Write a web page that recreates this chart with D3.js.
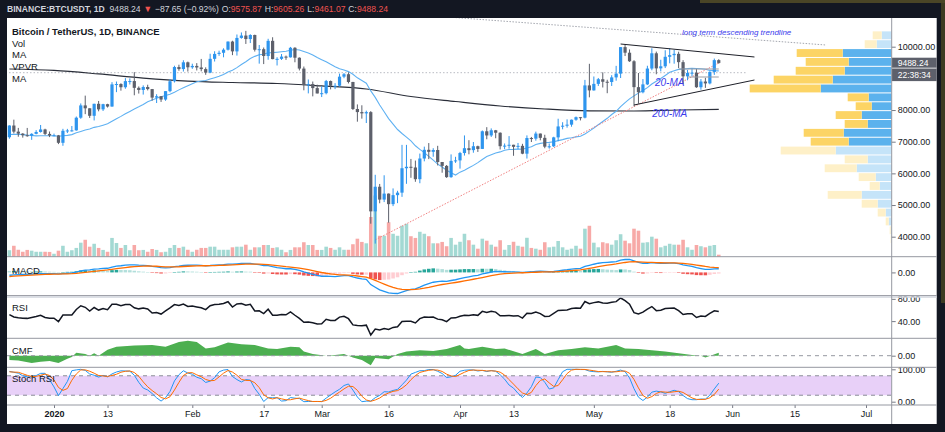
<!DOCTYPE html>
<html>
<head>
<meta charset="utf-8">
<script src="https://cdn.jsdelivr.net/npm/d3@7/dist/d3.min.js"></script>
<style>
html,body{margin:0;padding:0;background:#131722;overflow:hidden;}
svg{display:block;font-family:"Liberation Sans",Arial,sans-serif;}
</style>
</head>
<body>
<svg id="chart" width="945" height="432"></svg>
<script>
// ================= DATA =================
// closes before the visible range (used only to warm up MA20 / MACD / RSI)
const historyStart = "2019-11-10";
const historyCloses = [9040,8720,8800,8760,8630,8460,8490,8500,8170,8120,
  8080,7610,7280,7320,6900,7110,7160,7530,7450,7750,
  7550,7400,7300,7300,7200,7390,7530,7500,7520,7340,
  7220,7200,7190,7250,7070,7110,6880,6620,7280,7150,
  7190,7140];

// visible daily candles, 2019-12-22 .. 2020-05-29
const opens = [
  7141,7511,7318,7255,7205,7194,7248,7307,7387,7246,
  7196,7200,6965,7345,7355,7358,7758,8146,8055,7818,8197,8021,8185,8110,8810,8821,8720,8913,8915,8701,8633,8727,8662,8393,8436,8331,8597,8909,9358,9294,9507,
  9350,9393,9344,9293,9181,9617,9772,9808,9905,10162,9852,10277,10352,10241,10370,9904,9921,9706,10185,9608,9616,9687,9664,9966,9652,9309,8785,8820,8693,
  8523,8532,8915,8768,8768,9054,9131,8886,8033,7935,7895,7934,4800,5578,5172,5361,5028,5312,5391,6162,6208,6186,5816,6469,6744,6680,6738,6359,6236,5881,6394,
  6410,6642,6795,6734,6857,6772,7329,7197,7361,7283,6858,6876,6903,6838,6869,6622,7116,7096,7257,7122,6843,6855,7137,7482,7505,7538,7694,7774,7759,8778,
  8620,8826,8973,8893,8885,9031,9150,9987,9810,9540,8723,8561,8810,9310,9792,9316,9381,9681,9733,9775,9512,9064,9171,9180,8720,8900,8841,9204,9575.87];
const highs = [
  7518,7696,7436,7271,7435,7267,7365,7528,7409,7322,
  7255,7213,7406,7405,7495,7795,8208,8455,8055,8199,8286,8197,8197,8880,8900,8846,9008,9000,9198,8745,8779,8799,8665,8499,8436,8598,8977,9399,9431,9573,9530,
  9463,9481,9614,9348,9778,9856,9875,9950,10166,10188,10385,10450,10500,10392,10380,10054,9974,10250,10298,9668,9769,9720,9993,9985,9662,9374,8965,8900,8800,
  8750,8950,8932,8848,9150,9168,9190,8890,8177,8150,7980,7966,5955,5666,5940,5365,5525,5450,6900,6900,6456,6404,6625,6844,6957,6795,6870,6359,6264,6599,6523,
  6679,7198,7048,6990,6875,7355,7459,7420,7371,7295,6944,7177,6903,6960,6933,7199,7150,7318,7258,7219,6943,7156,7725,7615,7705,7700,7795,7780,8952,9460,
  9059,9012,9191,8956,9100,9395,9990,10067,9914,9574,9169,8979,9398,9950,9845,9588,9888,9950,9897,9842,9575,9266,9310,9298,8979,9018,9225,9625,9605.26];
const lows = [
  7094,7262,7157,7128,7157,7058,7233,7288,7210,7145,
  7175,6924,6871,7273,7319,7347,7723,7870,7750,7671,7960,7970,8079,8105,8565,8612,8672,8806,8466,8520,8488,8620,8296,8222,8256,8291,8562,8870,9240,9215,9215,
  9301,9250,9222,9112,9164,9532,9711,9665,9880,9733,9720,10252,10087,10115,9847,9465,9451,9588,9603,9407,9580,9584,9657,9508,9250,8623,8526,8432,8525,
  8410,8495,8652,8660,8740,9005,8840,8000,7632,7728,7590,4410,3782,5055,5093,4442,4966,5060,5258,5670,5860,5734,5688,6380,6450,6525,6250,6020,5857,5860,6330,
  6150,6562,6602,6652,6677,6768,7077,7150,7108,6754,6765,6780,6555,6760,6605,6468,6990,7031,7044,6793,6781,6833,7016,7391,7443,7473,7661,7672,7737,8401,
  8613,8760,8712,8531,8760,8926,9011,9705,9520,8117,8200,8528,8790,9256,9130,9220,9325,9475,9464,9326,8815,8940,9071,8700,8642,8700,8811,9110,9461.07];
const closes = [
  7511,7318,7255,7205,7194,7248,7307,7387,7246,7196,
  7200,6965,7345,7355,7358,7758,8146,8055,7818,8197,8021,8185,8110,8810,8821,8720,8913,8915,8701,8633,8727,8662,8393,8436,8331,8597,8909,9358,9294,9507,9350,
  9393,9344,9293,9181,9617,9772,9808,9905,10162,9852,10277,10352,10241,10370,9904,9921,9706,10185,9608,9616,9687,9664,9966,9652,9309,8785,8820,8693,8523,
  8532,8915,8768,8768,9054,9131,8886,8033,7935,7895,7934,4800,5578,5172,5361,5028,5312,5391,6162,6208,6186,5816,6469,6744,6680,6738,6359,6236,5881,6394,6410,
  6642,6795,6734,6857,6772,7329,7197,7361,7283,6858,6876,6903,6838,6869,6622,7116,7096,7257,7122,6843,6855,7137,7482,7505,7538,7694,7774,7759,8778,8620,
  8826,8973,8893,8885,9031,9150,9987,9810,9540,8723,8561,8810,9310,9792,9316,9381,9681,9733,9775,9512,9064,9171,9180,8720,8900,8841,9204,9575.87,9488.24];
// thousand BTC
const volumes = [
  44,73,47,34,46,41,34,34,34,33,
  21,41,73,34,44,59,93,112,67,86,59,46,34,124,91,59,78,44,78,44,46,34,52,46,31,34,59,78,59,67,47,
  34,47,59,59,67,67,47,47,47,63,67,67,80,47,63,63,78,78,59,63,47,31,46,63,63,96,78,78,46,
  46,67,59,47,63,47,47,83,119,98,89,260,400,138,138,226,151,138,203,216,135,124,164,151,135,89,89,98,70,124,80,
  99,151,109,80,54,119,106,80,67,109,47,78,99,73,67,125,59,54,47,96,63,67,104,63,47,54,73,54,184,203,
  93,63,96,89,80,109,148,106,89,184,171,93,96,132,119,63,73,86,80,80,112,63,47,78,70,63,73,78,15];

// 200-day MA
const ma200Dates = ["2019-12-22","2020-01-01","2020-01-11","2020-01-21","2020-01-31","2020-02-10","2020-02-20","2020-03-01","2020-03-11","2020-03-21","2020-03-31","2020-04-10","2020-04-20","2020-04-30","2020-05-10","2020-05-20","2020-05-29"];
const ma200Values = [9296,9250,9140,9010,8915,8870,8838,8760,8665,8427,8270,8128,8033,7976,7970,8001,8023];

// Chaikin Money Flow
const cmfDates = ["2019-12-22","2019-12-24","2019-12-27","2019-12-29","2019-12-31","2020-01-02","2020-01-04","2020-01-05","2020-01-06","2020-01-08","2020-01-09","2020-01-10","2020-01-11","2020-01-13","2020-01-15","2020-01-19","2020-01-23","2020-01-26","2020-01-29","2020-01-31","2020-02-02","2020-02-04","2020-02-06","2020-02-09","2020-02-12","2020-02-15","2020-02-18","2020-02-20","2020-02-23","2020-02-25","2020-02-26","2020-02-28","2020-03-02","2020-03-04","2020-03-06","2020-03-08","2020-03-10","2020-03-12","2020-03-13","2020-03-16","2020-03-18","2020-03-20","2020-03-23","2020-03-26","2020-03-29","2020-04-01","2020-04-02","2020-04-03","2020-04-06","2020-04-09","2020-04-11","2020-04-15","2020-04-18","2020-04-20","2020-04-23","2020-04-26","2020-04-29","2020-05-02","2020-05-06","2020-05-08","2020-05-11","2020-05-14","2020-05-17","2020-05-20","2020-05-23","2020-05-25","2020-05-26","2020-05-29"];
const cmfValues = [-0.07,-0.08,-0.12,-0.10,-0.09,-0.12,-0.05,-0.02,0.05,0.03,0.00,0.04,0.00,0.10,0.15,0.17,0.18,0.15,0.23,0.25,0.23,0.12,0.14,0.22,0.19,0.18,0.12,0.11,0.15,0.14,0.07,0.03,0.00,0.01,0.03,-0.03,-0.07,-0.16,-0.04,-0.06,0.03,0.07,0.09,0.08,0.11,0.18,0.12,0.11,0.15,0.11,0.12,0.03,0.11,0.03,0.09,0.11,0.14,0.12,0.18,0.12,0.11,0.09,0.07,0.04,0.01,0.00,-0.03,0.05];

// Visible-range volume profile (24 rows, top row first), thousand BTC
const vpvrUp   = [100,150,490,430,470,590,710,230,200,300,240,480,430,560,240,350,160,120,300,140,60,30,10,5];
const vpvrDown = [ 90,120,460,430,490,590,710,210,160,260,230,400,380,550,230,320,170,100,340,160,80,30,10,5];
const vpvrValueArea = [2, 12];

// drawn annotations (date, price)
const trendUpper = [["2020-05-07",10085],["2020-06-06",9675]];
const trendLower = [["2020-05-10",8159],["2020-06-06",8948]];
const trendRising = [["2020-03-13",3900],["2020-05-29",9485]];
const trendLongTerm = [["2020-03-29",10940],["2020-06-22",10054]];
const levelLine = [["2019-12-18",9179],["2020-06-04",9179]];
const flagTop = [["2020-05-20",9296],["2020-05-29",9296]];
const flagBottom = [["2020-05-22",9043],["2020-05-29",9043]];
const notes = [
  {text:"long term descending trendline", date:"2020-06-02", price:10464, size:8},
  {text:"20-MA", date:"2020-05-18", price:8885, size:10},
  {text:"200-MA", date:"2020-05-18", price:7905, size:10}
];

const xTickDates = ["2020-01-01","2020-01-13","2020-02-01","2020-02-17","2020-03-01","2020-03-16","2020-04-01","2020-04-13","2020-05-01","2020-05-18","2020-06-01","2020-06-15","2020-07-01"];
const xTickLabels = ["2020","13","Feb","17","Mar","16","Apr","13","May","18","Jun","15","Jul"];
const priceTicks = [4000,5000,6000,7000,8000,10000];
const macdTicks = [0], rsiTicks = [40,80], cmfTicks = [0], stochTicks = [0,100];
const lastPrice = 9488.24, countdown = "22:38:34";
const headerParts = [
  ["BINANCE:BTCUSDT, 1D", "#d1d4dc", 600, 0], ["9488.24", "#d1d4dc", 400, 5], ["▼", "#ef5350", 400, 3],
  ["−87.65 (−0.92%)", "#d1d4dc", 400, 3], ["O:", "#d1d4dc", 400, 3], ["9575.87", "#ef5350", 400, 0],
  ["H:", "#d1d4dc", 400, 3], ["9605.26", "#ef5350", 400, 0], ["L:", "#d1d4dc", 400, 3],
  ["9461.07", "#ef5350", 400, 0], ["C:", "#d1d4dc", 400, 3], ["9488.24", "#ef5350", 400, 0]
];

// ================= BUILD =================
const parse = d3.utcParse("%Y-%m-%d");
const svg = d3.select("#chart");
const L = 7, R = 891.7, RE = 936.7, TOP = 18, BOT = 424;
const P = {price:[TOP,256.7], macd:[256.7,295.5], rsi:[296.5,338.3], cmf:[338.3,367.3], stoch:[367.3,405]};
const FONT = "Liberation Sans, Arial, sans-serif";
const INK = "#131722";

const nHist = historyCloses.length;
const allCloses = historyCloses.concat(closes);
const allDates = allCloses.map((_, i) => d3.utcDay.offset(parse(historyStart), i));
const bars = closes.map((c, i) => ({date: allDates[nHist + i], o: opens[i], h: highs[i], l: lows[i], c, v: volumes[i]}));

// indicators derived from closes
const sma = (a, n) => a.map((_, i) => { if (i < n - 1) return null; const w = a.slice(i - n + 1, i + 1); return w.some(v => v == null) ? null : d3.mean(w); });
const ema = (a, n) => { const k = 2 / (n + 1); let e = null; return a.map(v => { if (v == null) return null; e = (e == null) ? v : v * k + e * (1 - k); return e; }); };
function rsiCalc(cl, n) {
  let ag = 0, al = 0; const out = [null];
  for (let i = 1; i < cl.length; i++) {
    const ch = cl[i] - cl[i - 1], g = Math.max(ch, 0), l = Math.max(-ch, 0);
    if (i <= n) { ag += g / n; al += l / n; out.push(i === n ? 100 - 100 / (1 + ag / al) : null); }
    else { ag = (ag * (n - 1) + g) / n; al = (al * (n - 1) + l) / n; out.push(al === 0 ? 100 : 100 - 100 / (1 + ag / al)); }
  }
  return out;
}
const ma20 = sma(allCloses, 20);
const e12 = ema(allCloses, 12), e26 = ema(allCloses, 26);
const macd = e12.map((v, i) => v - e26[i]);
const signal = ema(macd, 9);
const hist = macd.map((v, i) => v - signal[i]);
const rsi = rsiCalc(allCloses, 14);
const stochRaw = rsi.map((v, i) => { if (i < 13) return null; const w = rsi.slice(i - 13, i + 1); if (w.some(z => z == null)) return null; const lo = d3.min(w), hi = d3.max(w); return hi === lo ? 0 : 100 * (v - lo) / (hi - lo); });
const stochK = sma(stochRaw, 3), stochD = sma(stochK, 3);
const vis = arr => arr.slice(nHist).map((v, i) => ({date: bars[i].date, v}));

// scales
const x = d3.scaleUtc().domain([parse("2020-01-01"), parse("2020-07-01")]).range([54, 866]);
const dayW = x(parse("2020-01-02")) - x(parse("2020-01-01"));
const yP = d3.scaleLinear().domain([4000, 10000]).range([236.7, 46.7]);
const yV = d3.scaleLinear().domain([0, 650]).range([257, 157]);
const macdVals = [...vis(macd), ...vis(signal), ...vis(hist)].map(d => d.v);
const yM = d3.scaleLinear().domain(d3.extent(macdVals)).range([293.5, 259.5]);
const yR = d3.scaleLinear().domain(d3.extent(vis(rsi).map(d => d.v))).range([335, 298]);
const yC = d3.scaleLinear().domain([0, 0.1]).range([355.7, 349.7]);
const yS = d3.scaleLinear().domain([0, 100]).range([401.7, 369.3]);

// backgrounds
svg.append("rect").attr("width", 945).attr("height", 432).attr("fill", "#131722");
svg.append("rect").attr("x", 700).attr("y", 0).attr("width", 245).attr("height", 3).attr("fill", "#4a4526");
svg.append("rect").attr("x", 941).attr("y", 3).attr("width", 4).attr("height", 300).attr("fill", "#3d3a22");
svg.append("rect").attr("x", L).attr("y", TOP).attr("width", RE - L).attr("height", BOT - TOP).attr("fill", "#ffffff");

const defs = svg.append("defs");
Object.entries(P).forEach(([k, [a, b]]) => {
  defs.append("clipPath").attr("id", "clip-" + k).append("rect").attr("x", L).attr("y", a).attr("width", R - L).attr("height", b - a);
});
const pane = k => svg.append("g").attr("clip-path", `url(#clip-${k})`);

// ---------- price pane ----------
const gp = pane("price");
const line2 = pts => d3.line().x(d => x(parse(d[0]))).y(d => yP(d[1]))(pts);

// volume profile
const vpHi = d3.max(bars, d => d.h), vpLo = d3.min(bars, d => d.l);
const rowSize = (vpHi - vpLo) / vpvrUp.length;
const vpW = d3.scaleLinear().domain([0, 1420]).range([0, 142]);
vpvrUp.forEach((up, i) => {
  const pTop = vpHi - i * rowSize, pBot = pTop - rowSize;
  const yt = yP(pTop) + 0.5, h = yP(pBot) - yP(pTop) - 1;
  const inVA = i >= vpvrValueArea[0] && i <= vpvrValueArea[1];
  const wu = vpW(up), wd = vpW(vpvrDown[i]);
  gp.append("rect").attr("x", R - wu).attr("y", yt).attr("width", wu).attr("height", h)
    .attr("fill", inVA ? "#5bb2ed" : "#c5e4f9");
  gp.append("rect").attr("x", R - wu - wd).attr("y", yt).attr("width", wd).attr("height", h)
    .attr("fill", inVA ? "#fcd465" : "#fef0c8");
});

// dotted reference lines
gp.append("path").attr("d", line2(trendLongTerm)).attr("fill", "none").attr("stroke", "#a3a6ae").attr("stroke-width", 1).attr("stroke-dasharray", "1.5,1.5");
gp.append("path").attr("d", line2(levelLine)).attr("fill", "none").attr("stroke", "#b8bbc2").attr("stroke-width", 1).attr("stroke-dasharray", "1.5,2");

// volume bars
const barW = dayW * 0.8;
gp.selectAll("rect.vol").data(bars).join("rect").attr("class", "vol")
  .attr("x", d => x(d.date) - barW / 2).attr("width", barW)
  .attr("y", d => yV(d.v)).attr("height", d => yV(0) - yV(d.v))
  .attr("fill", d => d.c >= d.o ? "#a3d9d3" : "#f7a9a7");

// moving averages
gp.append("path").datum(ma200Dates.map((d, i) => [d, ma200Values[i]]))
  .attr("d", d3.line().x(d => x(parse(d[0]))).y(d => yP(d[1])).curve(d3.curveMonotoneX))
  .attr("fill", "none").attr("stroke", "#2a2e39").attr("stroke-width", 1.2);
gp.append("path").datum(vis(ma20))
  .attr("d", d3.line().x(d => x(d.date)).y(d => yP(d.v)))
  .attr("fill", "none").attr("stroke", "#5fb1f2").attr("stroke-width", 1.1);

// rising trendline
gp.append("path").attr("d", line2(trendRising)).attr("fill", "none").attr("stroke", "#f08080").attr("stroke-width", 1).attr("stroke-dasharray", "1.5,1.5");

// candles
const bodyW = dayW * 0.72;
const upC = "#2e95ee", dnC = "#5d606b";
gp.selectAll("line.wick").data(bars).join("line").attr("class", "wick")
  .attr("x1", d => x(d.date)).attr("x2", d => x(d.date))
  .attr("y1", d => yP(d.h)).attr("y2", d => yP(d.l))
  .attr("stroke", d => d.c >= d.o ? upC : dnC).attr("stroke-width", 1);
gp.selectAll("rect.body").data(bars).join("rect").attr("class", "body")
  .attr("x", d => x(d.date) - bodyW / 2).attr("width", bodyW)
  .attr("y", d => yP(Math.max(d.o, d.c))).attr("height", d => Math.max(1, Math.abs(yP(d.o) - yP(d.c))))
  .attr("fill", d => d.c >= d.o ? upC : dnC);

// small flag lines
[flagTop, flagBottom].forEach(p => gp.append("path").attr("d", line2(p)).attr("fill", "none").attr("stroke", "#9a9da5").attr("stroke-width", 1));
// triangle
[trendUpper, trendLower].forEach(p => gp.append("path").attr("d", line2(p)).attr("fill", "none").attr("stroke", "#1e2029").attr("stroke-width", 1));

notes.forEach(n => gp.append("text").attr("x", x(parse(n.date))).attr("y", yP(n.price))
  .attr("text-anchor", "middle").attr("dominant-baseline", "central")
  .attr("font-style", "italic").attr("font-size", n.size).attr("font-family", FONT)
  .attr("fill", "#3c3cec").text(n.text));

// legend
const legend = [["Bitcoin / TetherUS, 1D, BINANCE", 34.5, 600], ["Vol", 46.5, 400], ["MA", 58, 400], ["VPVR", 69.5, 400], ["MA", 82, 400]];
legend.forEach(([t, y, w]) => svg.append("text").attr("x", 12).attr("y", y).attr("font-size", 9.5).attr("font-weight", w)
  .attr("font-family", FONT).attr("fill", INK).text(t));

// ---------- MACD ----------
const gm = pane("macd");
const hv = vis(hist);
gm.selectAll("rect").data(hv).join("rect")
  .attr("x", d => x(d.date) - barW / 2).attr("width", barW)
  .attr("y", d => Math.min(yM(0), yM(d.v))).attr("height", d => Math.max(0.5, Math.abs(yM(d.v) - yM(0))))
  .attr("fill", (d, i) => { const p = i > 0 ? hv[i - 1].v : d.v; return d.v >= 0 ? (p < d.v ? "#26a69a" : "#b2dfdb") : (p < d.v ? "#ffcdd2" : "#ef5350"); });
const lineM = d3.line().x(d => x(d.date)).y(d => yM(d.v));
gm.append("path").datum(vis(macd)).attr("d", lineM).attr("fill", "none").attr("stroke", "#2196f3").attr("stroke-width", 1.3);
gm.append("path").datum(vis(signal)).attr("d", lineM).attr("fill", "none").attr("stroke", "#ff6d00").attr("stroke-width", 1.3);

// ---------- RSI ----------
const gr = pane("rsi");
gr.append("path").datum(vis(rsi)).attr("d", d3.line().x(d => x(d.date)).y(d => yR(d.v)))
  .attr("fill", "none").attr("stroke", "#131722").attr("stroke-width", 1.5);

// ---------- CMF ----------
const gc = pane("cmf");
const cmf = cmfDates.map((d, i) => ({date: parse(d), v: cmfValues[i]}));
gc.append("path").datum(cmf).attr("d", d3.area().x(d => x(d.date)).y0(yC(0)).y1(d => yC(d.v)))
  .attr("fill", "#4caf50");
gc.append("line").attr("x1", L).attr("x2", R).attr("y1", yC(0)).attr("y2", yC(0))
  .attr("stroke", "#9598a1").attr("stroke-dasharray", "4,4");

// ---------- Stoch RSI ----------
const gs = pane("stoch");
gs.append("rect").attr("x", L).attr("width", R - L).attr("y", yS(80)).attr("height", yS(20) - yS(80)).attr("fill", "#e8d0f8");
[80, 20].forEach(v => gs.append("line").attr("x1", L).attr("x2", R).attr("y1", yS(v)).attr("y2", yS(v))
  .attr("stroke", "#8a8d96").attr("stroke-dasharray", "4,4"));
const lineS = d3.line().x(d => x(d.date)).y(d => yS(d.v));
gs.append("path").datum(vis(stochK)).attr("d", lineS).attr("fill", "none").attr("stroke", "#2196f3").attr("stroke-width", 1);
gs.append("path").datum(vis(stochD)).attr("d", lineS).attr("fill", "none").attr("stroke", "#ff6d00").attr("stroke-width", 1);

// pane titles
[["MACD", 273.5], ["RSI", 311], ["CMF", 353.5], ["Stoch RSI", 381.5]].forEach(([t, y]) =>
  svg.append("text").attr("x", 12).attr("y", y).attr("font-size", 9.5).attr("font-family", FONT).attr("fill", INK).text(t));

// ---------- axes ----------
function rightAxis(scale, ticks) {
  const g = svg.append("g").attr("transform", `translate(${R},0)`)
    .call(d3.axisRight(scale).tickValues(ticks).tickFormat(d3.format(".2f")).tickSize(4).tickPadding(2));
  g.select(".domain").remove();
  g.attr("font-size", 9).attr("font-family", FONT);
  g.selectAll("line").attr("stroke", "#787b86");
  g.selectAll("text").attr("fill", INK);
}
rightAxis(yP, priceTicks);
rightAxis(yM, macdTicks);
rightAxis(yR, rsiTicks);
rightAxis(yC, cmfTicks);
rightAxis(yS, stochTicks);

const gx = svg.append("g").attr("transform", "translate(0,405)")
  .call(d3.axisBottom(x).tickValues(xTickDates.map(parse)).tickFormat((d, i) => xTickLabels[i]).tickSize(3).tickPadding(3));
gx.select(".domain").remove();
gx.attr("font-size", 9).attr("font-family", FONT);
gx.selectAll("line").attr("stroke", "#787b86");
gx.selectAll("text").attr("fill", INK).attr("font-weight", (d, i) => i === 0 ? 700 : 400);

// price & countdown labels
const yl = yP(lastPrice);
svg.append("rect").attr("x", R).attr("y", yl - 5.2).attr("width", RE - R).attr("height", 10).attr("fill", "#5d606b");
svg.append("text").attr("x", R + 6).attr("y", yl).attr("dominant-baseline", "central").attr("font-size", 8.5)
  .attr("font-family", FONT).attr("fill", "#ffffff").text(d3.format(".2f")(lastPrice));
svg.append("rect").attr("x", R).attr("y", yl + 5.6).attr("width", RE - R).attr("height", 12.6).attr("fill", "#5d606b");
svg.append("text").attr("x", R + 6).attr("y", yl + 12).attr("dominant-baseline", "central").attr("font-size", 8.5)
  .attr("font-family", FONT).attr("fill", "#ffffff").text(countdown);

// separators
[[256.7, "#9598a1", 1], [295.6, "#9598a1", 1], [297, "#d1d4dc", 1.5], [338.3, "#9598a1", 1], [367.3, "#9598a1", 1], [405, "#9598a1", 1]].forEach(([y, c, w]) =>
  svg.append("line").attr("x1", L).attr("x2", RE).attr("y1", y).attr("y2", y).attr("stroke", c).attr("stroke-width", w));
svg.append("line").attr("x1", R).attr("x2", R).attr("y1", TOP).attr("y2", BOT).attr("stroke", "#9598a1");

// header: one text line, coloured tspans
const head = svg.append("text").attr("x", 7).attr("y", 11.5).attr("font-size", 9).attr("font-family", FONT)
  .attr("textLength", 381).attr("lengthAdjust", "spacingAndGlyphs");
headerParts.forEach(([t, c, w, dx]) => head.append("tspan").attr("dx", dx).attr("fill", c).attr("font-weight", w).text(t));
</script>
</body>
</html>
